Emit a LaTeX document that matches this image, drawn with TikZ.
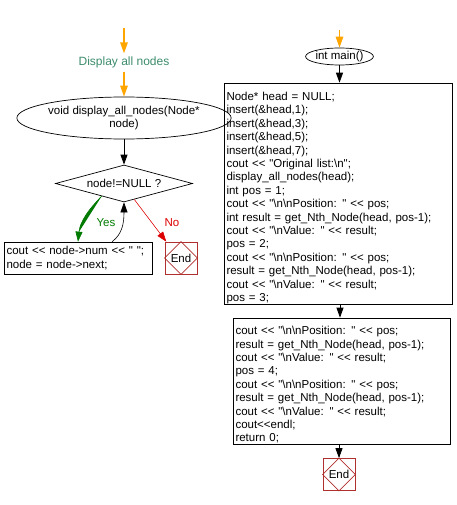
\documentclass[tikz,border=0pt]{standalone}
\usepackage{fontspec}
\setmainfont{Liberation Sans}
\newfontfamily\codefont{Liberation Sans}
\usetikzlibrary{shapes.geometric,arrows.meta,calc}
\definecolor{orangeA}{HTML}{FFA500}
\definecolor{tealT}{HTML}{3C8C6C}
\definecolor{yesG}{HTML}{007A00}
\definecolor{noR}{HTML}{DD0000}
\definecolor{endR}{HTML}{B03030}
\tikzset{
  txt/.style={font=\codefont\fontsize{11.5}{13.4}\selectfont},
  ell/.style={draw,line width=0.7pt,ellipse,inner sep=0pt,txt,align=center},
  dia/.style={draw,line width=0.7pt,diamond,aspect=3.7,inner sep=0pt,txt},
  proc/.style={draw,line width=0.7pt,rectangle,inner xsep=2.5pt,inner ysep=0pt,txt,align=left},
  endbox/.style={draw=endR,line width=0.7pt,rectangle,minimum width=32pt,minimum height=32pt,inner sep=0pt,txt},
  arr/.style={-{Triangle[width=7pt,length=10pt]},line width=0.8pt},
  oarr/.style={-{Triangle[width=7.5pt,length=11pt]},line width=1.4pt,draw=orangeA},
}
\begin{document}
\begin{tikzpicture}[x=1pt,y=-1pt]
\useasboundingbox (0,0) rectangle (456,505);
% left column
\coordinate (os1) at (124,28);
\node[txt,text=tealT,font=\codefont\fontsize{12}{14}\selectfont] (lbl) at (124,62.5) {Display all nodes};
\node[ell,minimum width=187pt,minimum height=42pt] (e1) at (124,118) {void display\_all\_nodes(Node*\\node)};
\node[dia,minimum width=137pt,minimum height=37pt] (d1) at (124,183.5) {node!=NULL ?};
\node[proc,minimum width=148pt,minimum height=32pt,text width=143pt] (p1) at (78,258) {cout << node->num << " ";\\node = node->next;};
\node[endbox] (end1) at (181,258) {End};
\draw[endR,line width=0.7pt] (end1.north) -- (end1.east) -- (end1.south) -- (end1.west) -- cycle;
\draw[oarr] (os1) -- (lbl.north);
\draw[oarr] (lbl.south) -- (e1.north);
\draw[arr] (e1.south) -- (d1.north);
\coordinate (ys) at ($(d1.south west)!0.35!(d1.south)$);
\draw[arr,draw=yesG,fill=yesG,line width=0.6pt] (ys) .. controls (88,210) and (80,222) .. (p1.north);
\node[txt,text=yesG] (yes) at (106,223) {Yes};
\coordinate (rs) at ($(p1.north)!0.46!(p1.north east)$);
\draw[arr,line width=0.6pt] (rs) .. controls (122,234) and (124,224) .. (d1.south);
\coordinate (ns) at ($(d1.south)!0.3!(d1.south east)$);
\coordinate (ne) at ($(end1.north west)!0.05!(end1.north east)$);
\draw[arr,draw=noR,fill=noR,line width=0.5pt] (ns) -- (ne);
\node[txt,text=noR] (no) at (172,223) {No};
% right column
\coordinate (os2) at (339.5,30);
\node[ell,minimum width=67pt,minimum height=17pt] (m) at (339.5,56.5) {int main()};
\node[proc,minimum width=228pt,minimum height=217pt,text width=223pt] (b1) at (338,193.5) {\rule{0pt}{17.5pt}Node* head = NULL;\\
insert(\&head,1);\\
insert(\&head,3);\\
insert(\&head,5);\\
insert(\&head,7);\\
cout << "Original list:\textbackslash n";\\
display\_all\_nodes(head);\\
int pos = 1;\\
cout << "\textbackslash n\textbackslash nPosition: " << pos;\\
int result = get\_Nth\_Node(head, pos-1);\\
cout << "\textbackslash nValue: " << result;\\
pos = 2;\\
cout << "\textbackslash n\textbackslash nPosition: " << pos;\\
result = get\_Nth\_Node(head, pos-1);\\
cout << "\textbackslash nValue: " << result;\\
pos = 3;};
\node[proc,minimum width=217pt,minimum height=126pt,text width=212pt] (b2) at (341.5,381) {\rule{0pt}{16pt}cout << "\textbackslash n\textbackslash nPosition: " << pos;\\
result = get\_Nth\_Node(head, pos-1);\\
cout << "\textbackslash nValue: " << result;\\
pos = 4;\\
cout << "\textbackslash n\textbackslash nPosition: " << pos;\\
result = get\_Nth\_Node(head, pos-1);\\
cout << "\textbackslash nValue: " << result;\\
cout<<endl;\\
return 0;};
\node[endbox] (end2) at (339,474.5) {End};
\draw[endR,line width=0.7pt] (end2.north) -- (end2.east) -- (end2.south) -- (end2.west) -- cycle;
\draw[oarr] (os2) -- (m.north);
\draw[arr] (m.south) -- (b1.north -| m.south);
\draw[arr] (b1.south -| 340,0) -- (b2.north -| 340,0);
\draw[arr] (b2.south -| end2.north) -- (end2.north);
\end{tikzpicture}
\end{document}
